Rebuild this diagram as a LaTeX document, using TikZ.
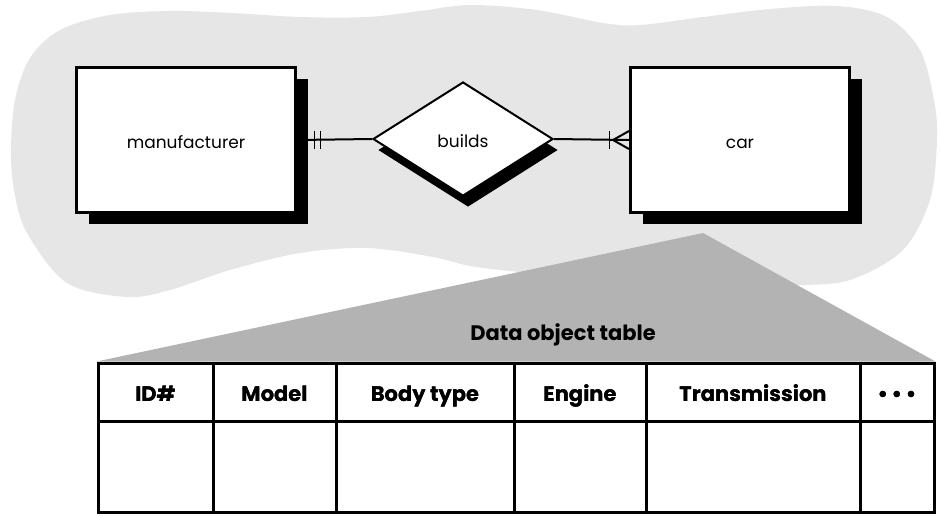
\documentclass[tikz,border=0pt]{standalone}
\usepackage{fontspec}
\setmainfont{Poppins}
\usetikzlibrary{shapes.geometric,shadows,calc}
\definecolor{blobc}{HTML}{E6E6E6}
\definecolor{tric}{HTML}{B3B3B3}
\tikzset{
  entity/.style={draw, line width=3pt, fill=white, minimum width=219pt, minimum height=145pt, inner sep=0pt, font=\fontsize{17}{19}\selectfont,
    text height=17pt, text depth=0pt,
    drop shadow={shadow xshift=12pt, shadow yshift=-11pt, opacity=1, fill=black}},
  rel/.style={diamond, draw, line width=2pt, fill=white, minimum width=180pt, minimum height=114pt, inner sep=0pt, font=\fontsize{17}{19}\selectfont,
    text height=17pt, text depth=0pt,
    drop shadow={shadow xshift=5pt, shadow yshift=-11pt, opacity=1, fill=black}},
  conn/.style={line width=2pt},
  hcell/.style={draw, line width=3pt, inner sep=0pt, minimum height=58pt, text height=22pt, text depth=4pt, font=\bfseries\fontsize{21}{23}\selectfont},
  bcell/.style={draw, line width=3pt, inner sep=0pt, minimum height=91pt},
}
\begin{document}
\begin{tikzpicture}[x=1pt,y=-1pt]
\useasboundingbox (0,0) rectangle (940,515);
% blob
\fill[blobc] plot[smooth cycle, tension=0.55] coordinates {
(11,150) (15,100) (30,58) (60,30) (110,15) (170,11) (233,13) (300,17) (367,17) (420,11) (470,5) (537,10) (603,23) (640,25) (703,17) (770,9) (837,6) (887,17) (920,50) (934,100) (937,140) (930,200) (903,250) (853,279) (803,285) (700,283) (600,278) (520,272) (470,266) (433,257) (367,248) (300,253) (230,270) (170,290) (127,297) (67,283) (27,233) (14,190)};
% table nodes
\node[hcell, minimum width=115pt] (h1) at (155.5,392) {ID\#};
\node[hcell, minimum width=123pt] (h2) at (274.5,392) {Model};
\node[hcell, minimum width=178pt] (h3) at (425,392) {Body type};
\node[hcell, minimum width=132pt] (h4) at (580,392) {Engine};
\node[hcell, minimum width=214pt] (h5) at (753,392) {Transmission};
\node[hcell, minimum width=74pt] (h6) at (897,392) {\textbullet\,\textbullet\,\textbullet};
\coordinate (apex) at (703,233);
\fill[tric] (apex) -- (h1.north west) -- (h6.north east) -- cycle;
\node[hcell, minimum width=115pt] at (h1) {ID\#};
\node[hcell, minimum width=123pt] at (h2) {Model};
\node[hcell, minimum width=178pt] at (h3) {Body type};
\node[hcell, minimum width=132pt] at (h4) {Engine};
\node[hcell, minimum width=214pt] at (h5) {Transmission};
\node[hcell, minimum width=74pt] at (h6) {\textbullet\,\textbullet\,\textbullet};
\node[bcell, minimum width=115pt] (b1) at (155.5,466.5) {};
\node[bcell, minimum width=123pt] (b2) at (274.5,466.5) {};
\node[bcell, minimum width=178pt] (b3) at (425,466.5) {};
\node[bcell, minimum width=132pt] (b4) at (580,466.5) {};
\node[bcell, minimum width=214pt] (b5) at (753,466.5) {};
\node[bcell, minimum width=74pt] (b6) at (897,466.5) {};
\node[font=\bfseries\fontsize{21}{23}\selectfont] (title) at (563,335) {Data object table};
% ER diagram
\node[entity] (m) at (186,140) {manufacturer};
\node[entity] (c) at (740,140) {car};
\node[rel] (d) at (463,139) {builds};
\draw[conn] (m.east) -- (d.west);
\draw[conn] (d.east) -- (c.west);
\draw[line width=1.5pt] ($(m.east)+(17.5,-9)$) -- ($(m.east)+(17.5,9)$);
\draw[line width=1.5pt] ($(m.east)+(23.5,-9)$) -- ($(m.east)+(23.5,9)$);
\draw[line width=1.5pt] ($(c.west)+(-19.5,-9)$) -- ($(c.west)+(-19.5,9)$);
\draw[line width=2pt] ($(c.west)+(0,-9)$) -- ($(c.west)+(-16,0)$) -- ($(c.west)+(0,9)$);
\end{tikzpicture}
\end{document}
